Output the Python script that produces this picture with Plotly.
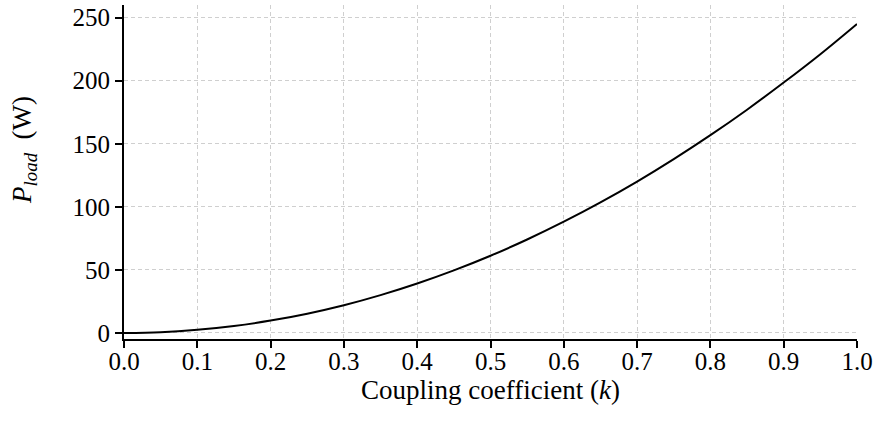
import plotly.graph_objects as go

k_values = [0.0, 0.05, 0.1, 0.15, 0.2, 0.25, 0.3, 0.35, 0.4, 0.45, 0.5,
            0.55, 0.6, 0.65, 0.7, 0.75, 0.8, 0.85, 0.9, 0.95, 1.0]
p_load = [0.0, 0.6, 2.5, 5.5, 9.8, 15.3, 22.0, 30.0, 39.2, 49.6, 61.2,
          74.1, 88.2, 103.5, 120.0, 137.8, 156.8, 177.0, 198.5, 221.0, 245.0]
x_ticks = [0.0, 0.1, 0.2, 0.3, 0.4, 0.5, 0.6, 0.7, 0.8, 0.9, 1.0]
x_tick_labels = ["0.0", "0.1", "0.2", "0.3", "0.4", "0.5", "0.6", "0.7", "0.8", "0.9", "1.0"]
y_ticks = [0, 50, 100, 150, 200, 250]

FONT = "Liberation Serif, Times New Roman, serif"

fig = go.Figure()
fig.add_trace(go.Scatter(x=k_values, y=p_load, mode="lines",
                         line=dict(color="black", width=2, shape="spline"),
                         showlegend=False))

grid_style = dict(showgrid=True, gridcolor="#cfcfcf", griddash="4px,3px", gridwidth=1)

fig.update_layout(
    width=879, height=428,
    margin=dict(l=124, r=22, t=5, b=89, autoexpand=False),
    paper_bgcolor="white", plot_bgcolor="white",
    font=dict(family=FONT, size=25, color="black"),
    xaxis=dict(range=[0, 1], tickvals=x_ticks, ticktext=x_tick_labels,
               showline=True, linecolor="black", linewidth=2,
               ticks="outside", ticklen=7, tickwidth=2, tickcolor="black",
               ticklabelstandoff=-8,
               zeroline=False, automargin=False, **grid_style,
               title=dict(text="Coupling coefficient (<i>k</i>)", standoff=0,
                          font=dict(family=FONT, size=27))),
    yaxis=dict(range=[-4.8, 260], tickvals=y_ticks,
               showline=True, linecolor="black", linewidth=2,
               ticks="outside", ticklen=7, tickwidth=2, tickcolor="black",
               zeroline=False, automargin=False, **grid_style),
)

fig.add_annotation(text="<i>P<sub>load</sub></i>  (W)", textangle=-90,
                   xref="paper", yref="paper", x=0, y=0.5, xshift=-100, yshift=22,
                   xanchor="center", yanchor="middle", showarrow=False,
                   font=dict(family=FONT, size=27, color="black"))

fig.write_html("out.html", config={"displayModeBar": False},
               post_script="document.body.style.margin='0px';document.body.style.overflow='hidden';")
